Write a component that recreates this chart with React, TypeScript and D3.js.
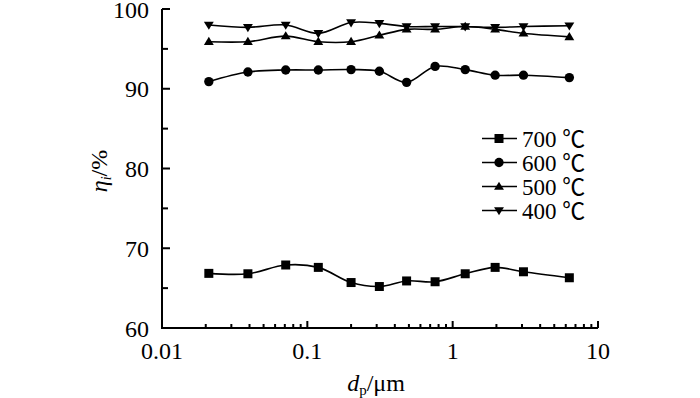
import * as d3 from "d3";
import React, { useEffect, useRef } from "react";

const diameters = [0.021, 0.039, 0.071, 0.119, 0.2, 0.313, 0.482, 0.757, 1.22, 1.96, 3.07, 6.35];
const eta700 = [66.85, 66.8, 67.9, 67.6, 65.7, 65.2, 65.9, 65.8, 66.8, 67.6, 67.05, 66.3];
const eta600 = [90.9, 92.1, 92.35, 92.35, 92.4, 92.2, 90.8, 92.8, 92.4, 91.7, 91.7, 91.4];
const eta500 = [95.9, 95.9, 96.6, 95.9, 95.9, 96.7, 97.45, 97.45, 97.8, 97.45, 96.95, 96.5];
const eta400 = [98.0, 97.7, 98.0, 96.95, 98.3, 98.2, 97.8, 97.8, 97.8, 97.7, 97.8, 97.9];
const seriesLabels = ["700 ℃", "600 ℃", "500 ℃", "400 ℃"];
const markerKinds = ["square", "circle", "triangleUp", "triangleDown"];
const xTickLabels = ["0.01", "0.1", "1", "10"];
const yTicks = [60, 70, 80, 90, 100];

const serif = "'Liberation Serif', 'Noto Sans CJK SC', serif";

const App: React.FC = () => {
  const ref = useRef<SVGSVGElement>(null);

  useEffect(() => {
    if (!ref.current) return;
    const svg = d3.select(ref.current);
    svg.selectAll("*").remove();

    const left = 162, right = 598, top = 9, bottom = 328;
    const x = d3.scaleLog().domain([0.01, 10]).range([left, right]);
    const y = d3.scaleLinear().domain([60, 100]).range([bottom, top]);

    const data = [eta700, eta600, eta500, eta400];

    const markerPath = (kind: string, s: number) => {
      if (kind === "square") return `M${-s / 2},${-s / 2}h${s}v${s}h${-s}Z`;
      if (kind === "circle") return d3.symbol(d3.symbolCircle, s * s * 0.85)()!;
      const h = s * 0.9;
      if (kind === "triangleUp") return `M0,${-h * 0.6}L${s * 0.55},${h * 0.4}L${-s * 0.55},${h * 0.4}Z`;
      return `M0,${h * 0.6}L${s * 0.55},${-h * 0.4}L${-s * 0.55},${-h * 0.4}Z`;
    };

    const line = d3
      .line<number>()
      .x((_, i) => x(diameters[i]))
      .y((d) => y(d))
      .curve(d3.curveCatmullRom.alpha(0.5));

    // series
    data.forEach((vals, k) => {
      svg
        .append("path")
        .attr("d", line(vals))
        .attr("fill", "none")
        .attr("stroke", "#000")
        .attr("stroke-width", 1.6);
      svg
        .append("g")
        .selectAll("path")
        .data(vals)
        .join("path")
        .attr("transform", (d, i) => `translate(${x(diameters[i])},${y(d)})`)
        .attr("d", markerPath(markerKinds[k], 9))
        .attr("fill", "#000");
    });

    // axes
    const axis = svg.append("g").attr("stroke", "#000").attr("stroke-width", 2);
    axis.append("path").attr("d", `M${left},${top}V${bottom}H${right}`).attr("fill", "none");

    d3.range(60, 100.1, 5).forEach((v) => {
      const major = v % 10 === 0;
      axis
        .append("line")
        .attr("x1", left)
        .attr("x2", left + (major ? 8 : 6))
        .attr("y1", y(v))
        .attr("y2", y(v));
    });

    const xt: number[] = [];
    for (let e = -2; e < 1; e++) for (let m = 1; m < 10; m++) xt.push(m * Math.pow(10, e));
    xt.push(10);
    xt.forEach((v) => {
      const major = Math.abs(Math.log10(v) - Math.round(Math.log10(v))) < 1e-9;
      axis
        .append("line")
        .attr("x1", x(v))
        .attr("x2", x(v))
        .attr("y1", bottom)
        .attr("y2", bottom - (major ? 7 : 4));
    });

    // tick labels
    svg
      .append("g")
      .selectAll("text")
      .data(yTicks)
      .join("text")
      .attr("x", left - 13)
      .attr("y", (d) => y(d) + 8.5)
      .attr("text-anchor", "end")
      .attr("font-family", serif)
      .attr("font-size", 24)
      .text((d) => d);

    svg
      .append("g")
      .selectAll("text")
      .data(xTickLabels)
      .join("text")
      .attr("x", (d) => x(+d))
      .attr("y", 359)
      .attr("text-anchor", "middle")
      .attr("font-family", serif)
      .attr("font-size", 24)
      .text((d) => d);

    // axis titles
    const xl = svg
      .append("text")
      .attr("x", 376)
      .attr("y", 391)
      .attr("text-anchor", "middle")
      .attr("font-family", serif)
      .attr("font-size", 24);
    xl.append("tspan").attr("font-style", "italic").text("d");
    xl.append("tspan").attr("font-size", 15).attr("dy", 4).text("p");
    xl.append("tspan").attr("dy", -4).text("/μm");

    const yl = svg
      .append("text")
      .attr("transform", "translate(107,171) rotate(-90)")
      .attr("text-anchor", "middle")
      .attr("font-family", serif)
      .attr("font-size", 24);
    yl.append("tspan").attr("font-style", "italic").text("η");
    yl.append("tspan").attr("font-style", "italic").attr("font-size", 14).attr("dy", 4).text("i");
    yl.append("tspan").attr("dy", -4).text("/%");

    // legend
    const lg = svg.append("g");
    seriesLabels.forEach((lab, k) => {
      const ly = 138.5 + k * 24;
      lg.append("line")
        .attr("x1", 482)
        .attr("x2", 517)
        .attr("y1", ly)
        .attr("y2", ly)
        .attr("stroke", "#000")
        .attr("stroke-width", 1.6);
      lg.append("path")
        .attr("transform", `translate(499,${ly})`)
        .attr("d", markerPath(markerKinds[k], 9))
        .attr("fill", "#000");
      lg.append("text")
        .attr("x", 522)
        .attr("y", ly + 8)
        .attr("font-family", serif)
        .attr("font-size", 23)
        .text(lab);
    });
  }, []);

  return (
    <svg
      ref={ref}
      width={700}
      height={398}
      style={{ position: "absolute", left: 0, top: 0, background: "#fff" }}
    />
  );
};

export default App;
